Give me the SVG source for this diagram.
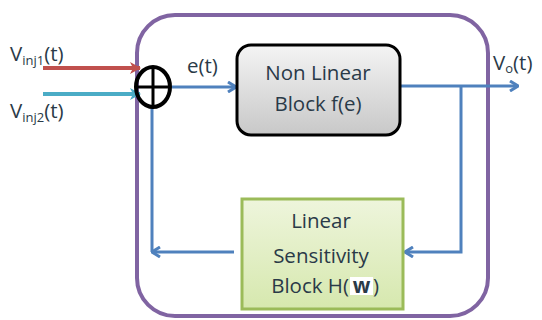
<svg xmlns="http://www.w3.org/2000/svg" width="542" height="320" viewBox="0 0 542 320">
<defs>
<style>
.t{font-family:"Open Sans","DejaVu Sans",sans-serif;font-size:20.5px;fill:#2a3a48}
.sub{font-size:13px}
.blue{stroke:#4f81bd;stroke-width:3;fill:none}
</style>
<linearGradient id="gg" x1="0" y1="0" x2="0" y2="1"><stop offset="0" stop-color="#f4f4f4"/><stop offset="1" stop-color="#c8c8c8"/></linearGradient>
<linearGradient id="gr" x1="0" y1="0" x2="0" y2="1"><stop offset="0" stop-color="#eef5dc"/><stop offset="1" stop-color="#d6e8ae"/></linearGradient>
<marker id="ab" markerWidth="10" markerHeight="12" refX="9" refY="6" orient="auto" markerUnits="userSpaceOnUse"><path d="M1,1 L9,6 L1,11" fill="none" stroke="#4f81bd" stroke-width="3"/></marker>
<marker id="ar" markerWidth="12" markerHeight="12" refX="10" refY="6" orient="auto" markerUnits="userSpaceOnUse"><path d="M0,0 L11,6 L0,12 L3,6 Z" fill="#c0504d"/></marker>
<marker id="ac" markerWidth="12" markerHeight="12" refX="10" refY="6" orient="auto" markerUnits="userSpaceOnUse"><path d="M0,0 L11,6 L0,12 L3,6 Z" fill="#4bacc6"/></marker>
</defs>
<rect id="frame" x="137" y="15" width="351" height="301" rx="38" fill="none" stroke="#8064a2" stroke-width="4"/>
<g id="connectors">
<line x1="43" y1="68" x2="140" y2="68" stroke="#c0504d" stroke-width="4" marker-end="url(#ar)"/>
<line x1="43" y1="94" x2="140" y2="94" stroke="#4bacc6" stroke-width="4" marker-end="url(#ac)"/>
<line class="blue" x1="172" y1="87" x2="236" y2="87" marker-end="url(#ab)"/>
<line class="blue" x1="400" y1="86" x2="518" y2="86" marker-end="url(#ab)"/>
<polyline class="blue" points="461,86 461,252 405,252" marker-end="url(#ab)"/>
<polyline class="blue" points="234,252 152,252" marker-end="url(#ab)"/>
<line class="blue" x1="152" y1="252" x2="152" y2="108"/>
</g>
<g id="sum">
<ellipse cx="153" cy="87" rx="17" ry="20" fill="none" stroke="#000" stroke-width="4"/>
<line x1="153" y1="67" x2="153" y2="107" stroke="#000" stroke-width="3"/>
<line x1="136" y1="87" x2="170" y2="87" stroke="#000" stroke-width="3"/>
</g>
<g id="nonlinear">
<rect x="237" y="45" width="163" height="90" rx="14" fill="url(#gg)" stroke="#000" stroke-width="3"/>
<text class="t" x="318" y="80" text-anchor="middle">Non Linear</text>
<text class="t" x="318" y="111" text-anchor="middle">Block f(e)</text>
</g>
<g id="linear">
<rect x="242" y="199" width="161" height="110" fill="url(#gr)" stroke="#9bbb59" stroke-width="3"/>
<text class="t" x="321" y="228" text-anchor="middle">Linear</text>
<text class="t" x="321" y="263" text-anchor="middle">Sensitivity</text>
<rect x="350" y="277" width="23" height="18" fill="#fff"/>
<text class="t" x="349" y="293" text-anchor="end">Block H(</text>
<text class="t" x="361.5" y="293" text-anchor="middle" font-weight="bold" fill="#000" font-size="17">w</text>
<text class="t" x="373" y="293">)</text>
</g>
<g id="labels">
<text class="t" x="10" y="61">V<tspan class="sub" dy="4">inj1</tspan><tspan dy="-4">(t)</tspan></text>
<text class="t" x="10" y="118">V<tspan class="sub" dy="4">inj2</tspan><tspan dy="-4">(t)</tspan></text>
<text class="t" x="187" y="73">e(t)</text>
<text class="t" x="493" y="70">V<tspan class="sub" dy="3">o</tspan><tspan dy="-3">(t)</tspan></text>
</g>
</svg>
